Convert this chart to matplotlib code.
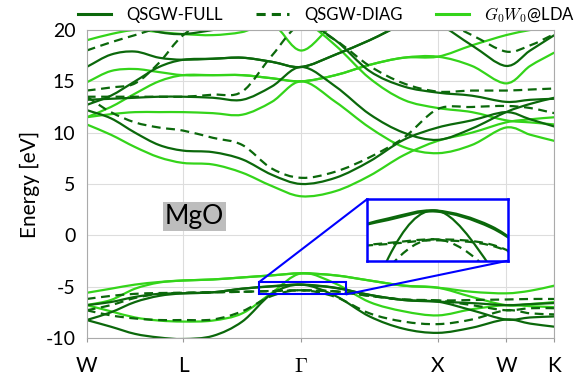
import numpy as np
import matplotlib
matplotlib.use("Agg")
from matplotlib import pyplot as plt
from matplotlib.path import Path
from matplotlib.patches import PathPatch
from matplotlib.lines import Line2D
from mpl_toolkits.axes_grid1.inset_locator import mark_inset

plt.rcParams['font.family'] = ['Lato', 'DejaVu Sans']
plt.rcParams['mathtext.fontset'] = 'cm'

# k-path W-L-G-X-W-K (units of 2pi/a), sampling points
kpts = [0.0, 0.177, 0.354, 0.530, 0.707, 0.924, 1.140, 1.357, 1.573,
        1.823, 2.073, 2.323, 2.573, 2.823, 3.073, 3.250, 3.427]
kticks = [0.0, 0.707, 1.573, 2.573, 3.073, 3.427]
klabels = ['W', 'L', r'$\Gamma$', 'X', 'W', 'K']

# QSGW-FULL
full_bands = [
    [-6.8, -6.5, -6.0, -5.7, -5.65, -5.55, -5.2, -4.95, -4.8, -5.1, -5.8, -6.3, -6.46, -6.6, -6.8, -6.7, -6.6],
    [-8.25, -7.5, -6.5, -5.9, -5.65, -5.55, -5.2, -4.98, -4.82, -5.13, -5.8, -6.3, -6.46, -7.3, -8.2, -8.0, -7.9],
    [-8.25, -8.9, -9.6, -9.95, -10.1, -9.8, -8.4, -5.7, -4.8, -5.9, -7.9, -9.1, -9.5, -9.0, -8.2, -8.6, -8.9],
    [12.2, 11.4, 10.0, 8.8, 8.25, 8.1, 7.4, 5.9, 5.0, 5.6, 7.2, 9.3, 10.5, 11.2, 12.0, 11.3, 10.6],
    [13.2, 13.3, 13.4, 13.5, 13.5, 13.4, 13.2, 14.5, 16.4, 14.5, 11.8, 10.0, 9.3, 10.4, 12.0, 12.8, 13.4],
    [16.4, 17.6, 17.9, 17.3, 17.1, 17.2, 17.3, 16.9, 16.4, 17.6, 19.0, 20.5, 20.5, 18.5, 16.5, 18.0, 19.5],
    [12.7, 13.6, 15.0, 16.4, 17.1, 17.2, 17.3, 16.9, 16.4, 17.6, 19.0, 20.5, 21.0, 21.0, 21.0, 21.0, 21.0],
    [21.0, 21.0, 20.5, 19.8, 19.6, 20.0, 20.5, 21.0, 21.0, 19.0, 16.0, 14.5, 13.9, 13.6, 13.0, 13.2, 13.3],
]

# QSGW-DIAG
diag_bands = [
    [-6.2, -5.9, -5.7, -5.62, -5.6, -5.55, -5.5, -5.42, -5.35, -5.45, -5.9, -6.25, -6.35, -6.3, -6.25, -6.2, -6.2],
    [-7.3, -6.8, -6.1, -5.7, -5.6, -5.55, -5.5, -5.44, -5.37, -5.47, -5.9, -6.25, -6.35, -6.8, -7.3, -7.1, -7.1],
    [-7.3, -7.8, -8.1, -8.25, -8.25, -8.2, -7.4, -5.9, -5.35, -6.0, -7.6, -8.4, -8.65, -8.2, -7.3, -7.6, -7.7],
    [13.5, 12.0, 11.0, 10.5, 10.2, 9.5, 8.8, 6.5, 5.6, 6.2, 7.6, 9.5, 12.3, 12.5, 12.6, 12.4, 11.9],
    [13.5, 13.5, 13.5, 13.5, 13.5, 13.7, 14.0, 17.5, 20.5, 19.0, 16.5, 14.8, 14.0, 14.1, 14.1, 14.2, 14.3],
    [14.1, 14.4, 14.8, 16.8, 19.5, 21.0, 21.0, 21.0, 21.0, 21.0, 21.0, 21.0, 21.0, 19.5, 17.9, 18.5, 19.6],
    [18.0, 18.8, 19.5, 20.2, 20.5, 21.0, 21.0, 21.0, 21.0, 21.0, 21.0, 21.0, 21.0, 21.0, 21.0, 21.0, 21.0],
]

# G0W0@LDA
lda_bands = [
    [-5.6, -5.2, -4.8, -4.55, -4.4, -4.3, -4.1, -3.9, -3.7, -3.9, -4.4, -4.9, -5.1, -5.5, -5.65, -5.4, -4.9],
    [-6.8, -6.3, -5.2, -4.6, -4.4, -4.3, -4.1, -3.9, -3.7, -3.9, -4.4, -4.9, -5.1, -6.0, -6.8, -6.7, -6.5],
    [-6.8, -7.4, -8.0, -8.3, -8.4, -8.3, -7.6, -5.6, -3.7, -4.7, -6.5, -7.4, -7.8, -7.2, -6.8, -6.9, -7.0],
    [10.8, 9.8, 8.6, 7.6, 7.05, 6.9, 6.1, 4.8, 3.8, 4.3, 5.8, 7.8, 9.2, 10.0, 11.0, 11.3, 11.5],
    [11.5, 11.8, 12.0, 12.0, 12.0, 11.9, 11.75, 13.0, 15.0, 13.0, 10.5, 8.6, 8.0, 8.8, 10.5, 9.8, 9.2],
    [14.9, 16.0, 16.2, 15.9, 15.6, 15.6, 15.6, 15.3, 15.0, 15.6, 16.6, 17.3, 17.4, 16.5, 14.8, 16.5, 17.8],
    [11.5, 12.5, 13.8, 15.0, 15.6, 15.6, 15.6, 15.3, 15.0, 15.6, 16.6, 17.3, 17.4, 18.5, 19.5, 20.0, 20.5],
    [19.0, 19.6, 20.0, 19.8, 19.6, 19.5, 19.8, 20.6, 18.0, 20.6, 21.0, 21.0, 21.0, 21.0, 21.0, 21.0, 21.0],
    [21.0, 21.0, 21.0, 21.0, 21.0, 21.0, 21.0, 21.0, 21.0, 18.5, 15.3, 13.2, 12.4, 12.0, 11.2, 11.0, 10.8],
]

dark = '#0b680b'
light = '#34d41a'


def band_path(xs, ys):
    # smooth curve through the read points (Catmull-Rom as cubic Bezier)
    pts = np.column_stack([xs, ys])
    ext = np.vstack([2 * pts[0] - pts[1], pts, 2 * pts[-1] - pts[-2]])
    verts = [pts[0]]
    codes = [Path.MOVETO]
    for i in range(1, len(ext) - 2):
        p0, p1, p2, p3 = ext[i - 1], ext[i], ext[i + 1], ext[i + 2]
        verts += [p1 + (p2 - p0) / 6, p2 - (p3 - p1) / 6, p2]
        codes += [Path.CURVE4] * 3
    return Path(verts, codes)


def draw_bands(ax, bands, color, ls, lw):
    for b in bands:
        ax.add_patch(PathPatch(band_path(kpts, b), fill=False, edgecolor=color,
                               linestyle=ls, linewidth=lw, capstyle='butt'))


fig = plt.figure(figsize=(5.78, 3.82), dpi=100)
ax = fig.add_axes([0.150, 0.1152, 0.809, 0.8063])

draw_bands(ax, lda_bands, light, '-', 1.6)
draw_bands(ax, diag_bands, dark, (0, (4, 2.5)), 1.6)
draw_bands(ax, full_bands, dark, '-', 1.6)

ax.set_xlim(kticks[0], kticks[-1])
ax.set_ylim(-10, 20)
ax.set_xticks(kticks)
ax.set_xticklabels(klabels, fontsize=15)
ax.set_yticks([-10, -5, 0, 5, 10, 15, 20])
ax.set_yticklabels(['-10', '-5', '0', '5', '10', '15', '20'], fontsize=14)
ax.set_ylabel('Energy [eV]', fontsize=15)
ax.tick_params(axis='x', length=3, pad=10, color='#999999')
ax.tick_params(axis='y', length=0, pad=8)
ax.grid(True, color='#dddddd', linewidth=0.8)
ax.set_axisbelow(True)
for s in ax.spines.values():
    s.set_color('#aaaaaa')
    s.set_linewidth(0.8)

ax.text(0.79, 1.8, 'MgO', fontsize=19, ha='center', va='center',
        bbox=dict(facecolor='#bdbdbd', edgecolor='none', pad=1.5))

# inset around the valence band top at Gamma
axins = fig.add_axes([0.6355, 0.3175, 0.2429, 0.1615])
draw_bands(axins, diag_bands, dark, (0, (4, 2.5)), 1.6)
draw_bands(axins, full_bands, dark, '-', 1.6)
axins.set_xlim(1.261, 1.898)
axins.set_ylim(-5.76, -4.58)
axins.set_xticks([])
axins.set_yticks([])
for s in axins.spines.values():
    s.set_color('blue')
    s.set_linewidth(1.8)
mark_inset(ax, axins, loc1=2, loc2=4, fc='none', ec='blue', lw=1.5)

handles = [Line2D([], [], color=dark, lw=2.2, ls='-'),
           Line2D([], [], color=dark, lw=2.2, ls=(0, (3, 2))),
           Line2D([], [], color=light, lw=2.2, ls='-')]
fig.legend(handles, ['QSGW-FULL', 'QSGW-DIAG', r'$G_0W_0$@LDA'],
           loc='upper center', bbox_to_anchor=(0.565, 1.025), ncol=3,
           frameon=False, fontsize=12, handlelength=2.0, handletextpad=0.9,
           columnspacing=2.0)

fig.savefig('out.png', dpi=100)
